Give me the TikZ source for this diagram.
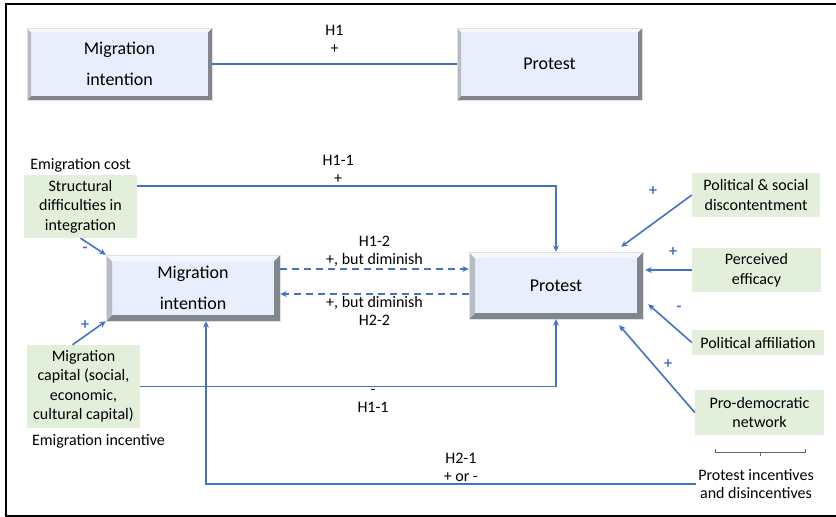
\documentclass[tikz,border=0pt]{standalone}
\usepackage{fontspec}
\setmainfont{Carlito}
\usetikzlibrary{arrows.meta,positioning}

\definecolor{lineblue}{HTML}{4472C4}
\definecolor{boxblue}{HTML}{E8EEFC}
\definecolor{boxgreen}{HTML}{E2EFDA}
\definecolor{bevdark}{HTML}{80858E}
\definecolor{bevlight}{HTML}{B7BCC6}

\begin{document}
\begin{tikzpicture}[x=1pt, y=-1pt, >={Stealth[length=6.5pt,width=6pt]},
  conn/.style={draw=lineblue, line width=1.6pt},
  dashconn/.style={conn, dash pattern=on 7pt off 5pt},
  factor/.style={fill=boxgreen, align=center, inner sep=2pt,
    font=\fontsize{16}{19.5}\selectfont},
  lbl/.style={align=center, inner sep=2pt, font=\fontsize{16}{18}\selectfont},
  sign/.style={text=lineblue, inner sep=0pt, font=\fontsize{16}{17}\selectfont\bfseries},
  bevelbox/.style={fill=boxblue, draw=black!12, align=center,
    font=\fontsize{18}{31}\selectfont,
    path picture={
      \fill[bevdark] (path picture bounding box.north east)
        -- (path picture bounding box.south east)
        -- (path picture bounding box.south west)
        -- ([xshift=#1,yshift=#1]path picture bounding box.south west)
        -- ([xshift=-#1,yshift=#1]path picture bounding box.south east)
        -- ([xshift=-#1,yshift=-#1]path picture bounding box.north east) -- cycle;
      \fill[bevlight] (path picture bounding box.north west)
        -- ([xshift=#1,yshift=-#1]path picture bounding box.north west)
        -- ([xshift=#1,yshift=#1]path picture bounding box.south west)
        -- (path picture bounding box.south west) -- cycle;
      \fill[white!55!boxblue] (path picture bounding box.north west)
        -- (path picture bounding box.north east)
        -- ([xshift=-#1,yshift=-#1]path picture bounding box.north east)
        -- ([xshift=#1,yshift=-#1]path picture bounding box.north west) -- cycle;
    }}]

  \useasboundingbox (0,0) rectangle (836,517);
  \draw[line width=2pt] (845,4) -- (6,4) -- (6,516) -- (845,516);

  % top model
  \node[bevelbox=4pt, minimum width=185, minimum height=72] (mitop) at (119.5,64) {Migration\\intention};
  \node[bevelbox=4pt, minimum width=185, minimum height=72] (prtop) at (549.5,64) {Protest};
  \draw[conn] (mitop) -- (prtop) node[lbl, midway, above=8pt] {H1\\+};

  % main model
  \node[bevelbox=6pt, minimum width=174, minimum height=66] (mimid) at (193,288) {Migration\\intention};
  \node[bevelbox=6pt, minimum width=174, minimum height=67] (prmid) at (556,285.5) {Protest};

  \node[factor, minimum width=113, minimum height=63] (struct) at (80.5,206.5) {Structural\\difficulties in\\integration};
  \node[lbl, above=0pt of struct] (cost) {Emigration cost};
  \node[factor, minimum width=113, minimum height=83] (capital) at (83.5,386.5) {Migration\\capital (social,\\economic,\\cultural capital)};
  \node[lbl, anchor=north west] (incentive) at ([xshift=3pt,yshift=-4pt]capital.south west) {Emigration incentive};

  \node[factor, minimum width=128, minimum height=44] (discontent) at (756,195) {Political \& social\\discontentment};
  \node[factor, minimum width=129, minimum height=44] (efficacy) at (756.5,270) {Perceived\\efficacy};
  \node[factor, minimum width=132, minimum height=25] (affiliation) at (758,342.5) {Political affiliation};
  \node[factor, minimum width=129, minimum height=45] (network) at (759.5,412.5) {Pro-democratic\\network};
  \node[lbl] (protinc) at (756,484) {Protest incentives\\and disincentives};
  \draw[black!60, line width=0.8pt] (715,449) -- (715,452) -- (805,452) -- (805,449)
    (760,452) -- (760,456);

  % hypotheses
  \draw[conn,->] (struct.east |- 0,186) -| (prmid.north)
    node[lbl, pos=0.24, above] {H1-1\\+};
  \draw[conn,->] (capital.east) -| (prmid.south)
    node[lbl, pos=0.28, below] {-\\H1-1};
  \draw[dashconn,->] (mimid.east |- 0,269) -- (prmid.west |- 0,269)
    node[lbl, midway, above] {H1-2\\+, but diminish};
  \draw[dashconn,->] (prmid.west |- 0,294) -- (mimid.east |- 0,294)
    node[lbl, midway, below] {+, but diminish\\H2-2};
  \draw[conn,->] (protinc.west) -| ([xshift=13pt]mimid.south)
    node[lbl, pos=0.24, above] {H2-1\\+ or -};

  % influences
  \draw[conn,->] (struct.south) -- (mimid.north west);
  \node[sign] at (85,250) {-};
  \draw[conn,->] ([xshift=-11pt]capital.north) -- (mimid.south west);
  \node[sign] at (85,325) {+};

  \draw[conn,->] (discontent.west) -- ([xshift=-22pt,yshift=5pt]prmid.north east);
  \node[sign] at (653,191) {+};
  \draw[conn,->] (efficacy.west) -- ([xshift=2pt]prmid.east |- efficacy.west);
  \node[sign] at (673,252) {+};
  \draw[conn,->] (affiliation.west) -- ([xshift=5pt,yshift=15pt]prmid.south east);
  \node[sign] at (679,309) {-};
  \draw[conn,->] (network.west) -- ([xshift=-24pt,yshift=-6pt]prmid.south east);
  \node[sign] at (668,364) {+};
\end{tikzpicture}
\end{document}
